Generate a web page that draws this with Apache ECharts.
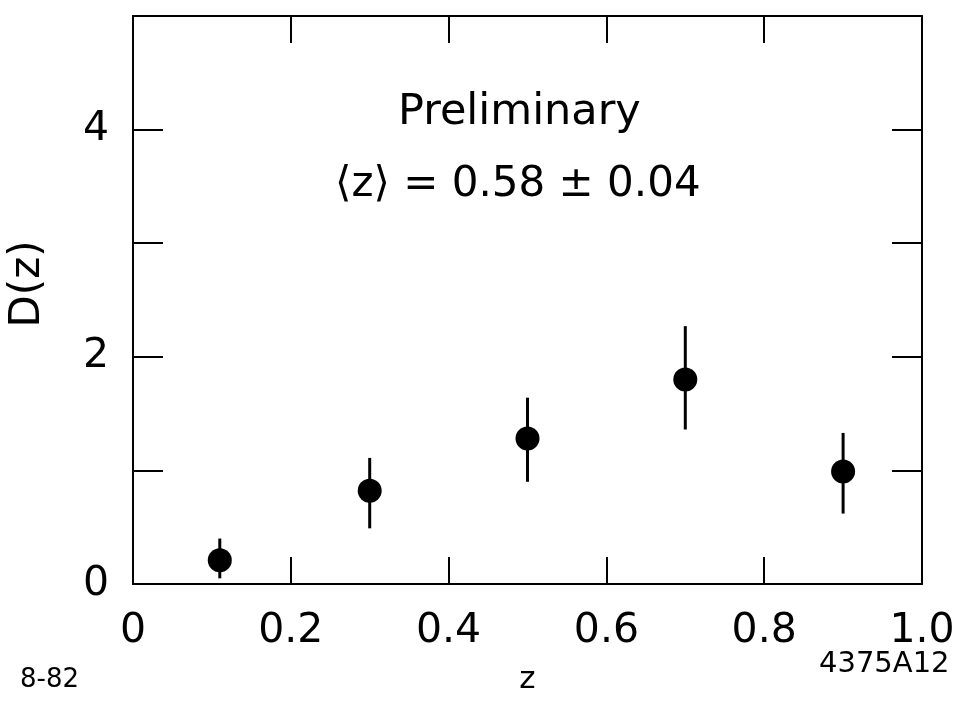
<!DOCTYPE html>
<html>
<head>
<meta charset="utf-8">
<script src="https://cdn.jsdelivr.net/npm/echarts@6/dist/echarts.min.js"></script>
<style>
html,body{margin:0;padding:0;background:#fff;}
#chart{width:953px;height:702px;}
</style>
</head>
<body>
<div id="chart"></div>
<script>
// Data
const zValues = [0.11, 0.30, 0.50, 0.70, 0.90];
const dValues = [0.21, 0.82, 1.28, 1.80, 0.99];
const errLow  = [0.05, 0.49, 0.90, 1.36, 0.62];
const errHigh = [0.40, 1.11, 1.64, 2.27, 1.33];
const xTickLabels = ['0', '0.2', '0.4', '0.6', '0.8', '1.0'];
const yTickLabels = ['0', '2', '4'];

const FONT = 'DejaVu Sans';
const chart = echarts.init(document.getElementById('chart'), null, {renderer: 'canvas'});

const points = zValues.map((z, i) => [z, dValues[i]]);
const bars = zValues.map((z, i) => [z, errLow[i], errHigh[i]]);

function xLabel(v) {
  const idx = Math.round(v / 0.2);
  if (Math.abs(v - idx * 0.2) > 1e-6) return '';
  return xTickLabels[idx] !== undefined ? xTickLabels[idx] : '';
}
function yLabel(v) {
  const s = String(Math.round(v));
  return yTickLabels.indexOf(s) >= 0 && Math.abs(v - Math.round(v)) < 1e-6 ? s : '';
}

const axisLineStyle = {color: '#000', width: 2};

chart.setOption({
  animation: false,
  backgroundColor: '#fff',
  grid: {left: 133, right: 31, top: 16, bottom: 118, containLabel: false, outerBoundsMode: 'none'},
  xAxis: [
    {
      type: 'value', min: 0, max: 1, interval: 0.2, position: 'bottom',
      axisLine: {show: true, onZero: false, lineStyle: axisLineStyle},
      axisTick: {show: true, inside: true, length: 27, lineStyle: {color: '#000', width: 2}},
      axisLabel: {show: true, margin: 27, fontFamily: FONT, fontSize: 41, color: '#000', formatter: xLabel},
      splitLine: {show: false},
      name: 'z', nameLocation: 'middle', nameGap: 80,
      nameTextStyle: {fontFamily: FONT, fontSize: 31, color: '#000'}
    },
    {
      type: 'value', min: 0, max: 1, interval: 0.2, position: 'top',
      axisLine: {show: true, onZero: false, lineStyle: axisLineStyle},
      axisTick: {show: true, inside: true, length: 27, lineStyle: {color: '#000', width: 2}},
      axisLabel: {show: false},
      splitLine: {show: false}
    }
  ],
  yAxis: [
    {
      type: 'value', min: 0, max: 5, interval: 1, position: 'left',
      axisLine: {show: true, onZero: false, lineStyle: axisLineStyle},
      axisTick: {show: true, inside: true, length: 30, lineStyle: {color: '#000', width: 2}},
      axisLabel: {show: true, margin: 24, fontFamily: FONT, fontSize: 41, color: '#000', formatter: yLabel},
      splitLine: {show: false}
    },
    {
      type: 'value', min: 0, max: 5, interval: 1, position: 'right',
      axisLine: {show: true, onZero: false, lineStyle: axisLineStyle},
      axisTick: {show: true, inside: true, length: 30, lineStyle: {color: '#000', width: 2}},
      axisLabel: {show: false},
      splitLine: {show: false}
    }
  ],
  graphic: [
    {type: 'text', left: 398, top: 91, style: {text: 'Preliminary', font: '43px "DejaVu Sans"', fill: '#000'}},
    {type: 'text', left: 335, top: 164, style: {text: '\u27E8z\u27E9 = 0.58 \u00B1 0.04', font: '42px "DejaVu Sans"', fill: '#000'}},
    {type: 'text', x: 28, y: 284, rotation: Math.PI / 2,
     style: {text: 'D(z)', font: '42px "DejaVu Sans"', fill: '#000', align: 'center', verticalAlign: 'middle'}},
    {type: 'text', left: 20, top: 667, style: {text: '8-82', font: '26px "DejaVu Sans"', fill: '#000'}},
    {type: 'text', left: 819, top: 650, style: {text: '4375A12', font: '29px "DejaVu Sans"', fill: '#000'}}
  ],
  series: [
    {
      type: 'custom',
      xAxisIndex: 0, yAxisIndex: 0,
      data: bars,
      renderItem: function (params, api) {
        const p1 = api.coord([api.value(0), api.value(1)]);
        const p2 = api.coord([api.value(0), api.value(2)]);
        return {type: 'line', shape: {x1: p1[0], y1: p1[1], x2: p2[0], y2: p2[1]},
                style: {stroke: '#000', lineWidth: 3}};
      },
      z: 2
    },
    {
      type: 'scatter',
      xAxisIndex: 0, yAxisIndex: 0,
      data: points,
      symbol: 'circle', symbolSize: 24,
      itemStyle: {color: '#000', opacity: 1},
      z: 3
    }
  ]
});
</script>
</body>
</html>
